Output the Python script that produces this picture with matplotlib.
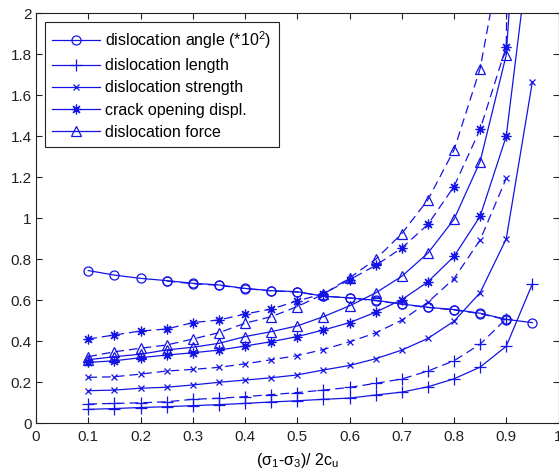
import matplotlib
matplotlib.use('Agg')
import matplotlib.pyplot as plt
from matplotlib.ticker import FormatStrFormatter, MultipleLocator

plt.rcParams['font.family'] = ['Liberation Sans', 'DejaVu Sans']

# valores
x_full = [0.1, 0.15, 0.2, 0.25, 0.3, 0.35, 0.4, 0.45, 0.5, 0.55,
          0.6, 0.65, 0.7, 0.75, 0.8, 0.85, 0.9, 0.95]
x_dash = x_full[:-1]

angle = [0.745, 0.723, 0.707, 0.696, 0.683, 0.675, 0.658, 0.647, 0.642, 0.62,
         0.612, 0.60, 0.582, 0.566, 0.555, 0.537, 0.507, 0.491]
length = [0.068, 0.072, 0.077, 0.081, 0.086, 0.091, 0.097, 0.104, 0.11, 0.117,
          0.123, 0.138, 0.152, 0.178, 0.217, 0.274, 0.376, 0.68]
strength = [0.159, 0.162, 0.171, 0.176, 0.187, 0.20, 0.211, 0.222, 0.236, 0.26,
            0.282, 0.315, 0.357, 0.414, 0.498, 0.637, 0.90, 1.666]
crack = [0.297, 0.305, 0.32, 0.333, 0.344, 0.357, 0.377, 0.398, 0.423, 0.455,
         0.491, 0.542, 0.603, 0.69, 0.814, 1.01, 1.40, 2.44]
force = [0.31, 0.325, 0.337, 0.358, 0.371, 0.39, 0.423, 0.447, 0.475, 0.52,
         0.573, 0.636, 0.717, 0.83, 0.995, 1.277, 1.797, 3.7]

# serie discontinua (segundo caso)
x_angle_d = [0.25, 0.3, 0.35, 0.4, 0.45, 0.5, 0.55, 0.6, 0.65, 0.7, 0.75, 0.8, 0.85, 0.9]
angle_d = [0.694, 0.681, 0.673, 0.657, 0.646, 0.64, 0.621, 0.611, 0.598, 0.581,
           0.565, 0.553, 0.535, 0.505]
length_d = [0.094, 0.097, 0.10, 0.105, 0.117, 0.122, 0.13, 0.14, 0.15, 0.162,
            0.175, 0.195, 0.216, 0.255, 0.305, 0.386, 0.51]
strength_d = [0.224, 0.227, 0.24, 0.255, 0.263, 0.273, 0.29, 0.31, 0.33, 0.36,
              0.397, 0.441, 0.503, 0.59, 0.706, 0.894, 1.195]
crack_d = [0.411, 0.431, 0.45, 0.46, 0.491, 0.504, 0.533, 0.557, 0.597, 0.632,
           0.70, 0.77, 0.855, 0.97, 1.155, 1.434, 1.837, 12.0]
force_d = [0.325, 0.349, 0.366, 0.382, 0.411, 0.442, 0.488, 0.52, 0.569, 0.63,
           0.709, 0.80, 0.925, 1.09, 1.333, 1.73, 2.42]

labels = ['dislocation angle (*10$^\\mathregular{2}$)', 'dislocation length',
          'dislocation strength', 'crack opening displ.', 'dislocation force']

blue = '#1414E6'
lw = 0.9
ast = (8, 2, 0)

fig = plt.figure(figsize=(5.59, 4.74), dpi=100)
ax = fig.add_axes([36 / 559, 1 - 423.3 / 474, 522.5 / 559, 410 / 474])

solid = [(x_full, angle, 'o', 6.5), (x_full, length, '+', 9),
         (x_full, strength, 'x', 5), (x_full, crack, ast, 7),
         (x_full, force, '^', 7.5)]
dashed = [(x_angle_d, angle_d, 'o', 6.5), (x_dash, length_d, '+', 9),
          (x_dash, strength_d, 'x', 5), (x_full, crack_d, ast, 7),
          (x_dash, force_d, '^', 7.5)]

for (xs, ys, m, ms), lab in zip(solid, labels):
    ax.plot(xs, ys, color=blue, lw=lw, marker=m, ms=ms, mfc='none',
            mec=blue, mew=0.9, label=lab)
for xs, ys, m, ms in dashed:
    ax.plot(xs, ys, color=blue, lw=lw, marker=m, ms=ms, mfc='none',
            mec=blue, mew=0.9, dashes=(7, 4))

ax.set_xlim(0, 1)
ax.set_ylim(0, 2)
ax.xaxis.set_major_locator(MultipleLocator(0.1))
ax.yaxis.set_major_locator(MultipleLocator(0.2))
ax.xaxis.set_major_formatter(FormatStrFormatter('%g'))
ax.yaxis.set_major_formatter(FormatStrFormatter('%g'))
ax.tick_params(direction='in', top=True, right=True, length=4, width=0.8,
               labelsize=11, colors='#222222')
ax.tick_params(axis='x', pad=5)
ax.tick_params(axis='y', pad=3)
for s in ax.spines.values():
    s.set_linewidth(0.8)
    s.set_color('#222222')

ax.set_xlabel('(σ$_\\mathregular{1}$-σ$_\\mathregular{3}$)/ 2c$_\\mathregular{u}$',
              fontsize=11.5, labelpad=5)

leg = ax.legend(loc='upper left', fontsize=11.5, handlelength=3.0,
                handletextpad=0.35, labelspacing=0.45, borderaxespad=0.55,
                fancybox=False, edgecolor='#222222', framealpha=1,
                borderpad=0.45)
leg.get_frame().set_linewidth(0.8)

fig.savefig('out.png', dpi=100)
